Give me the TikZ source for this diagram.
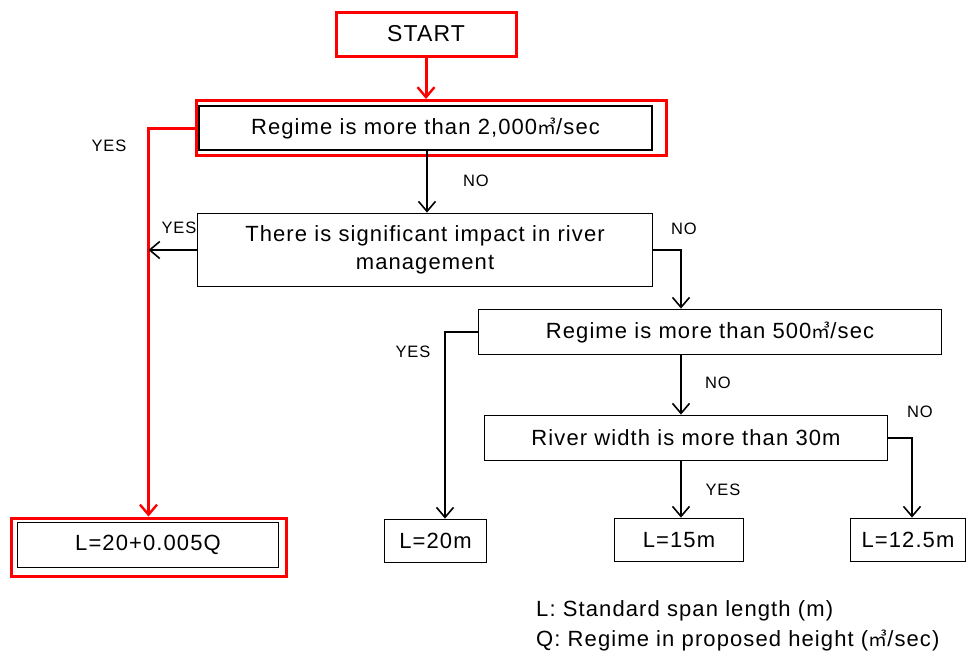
\documentclass[tikz,border=0pt]{standalone}
\usepackage{fontspec}
\setmainfont{Liberation Sans}[LetterSpace=5]
\newfontfamily\cjk{Noto Sans CJK JP}
\usetikzlibrary{arrows.meta}
% squared cubic-metre sign
\newcommand{\cbm}{{\cjk\fontsize{19}{19}\selectfont ㎥}}

\begin{document}
\begin{tikzpicture}[x=1pt,y=-1pt,
  txt/.style={font=\fontsize{22}{28}\selectfont},
  box/.style={draw=black, line width=1.8pt, rectangle, inner sep=0pt, align=center, txt},
  redframe/.style={draw=red, line width=3pt, rectangle, inner sep=0pt},
  flow/.style={draw=black, line width=1.6pt, -{Straight Barb[length=10pt,width=17pt,line width=1.6pt]}},
  redflow/.style={draw=red, line width=3pt, -{Straight Barb[length=10pt,width=17pt,line width=2.4pt]}},
  lbl/.style={font=\fontsize{16.5}{18}\selectfont, inner sep=0pt},
]
\useasboundingbox (0,0) rectangle (974,657);

% column coordinates for the vertical connectors
\coordinate (cmain) at (427,0);
\coordinate (cmid) at (681,0);
\coordinate (cyes) at (445,0);
\coordinate (cno) at (912,0);

% start
\node[redframe, minimum width=180pt, minimum height=44pt, font=\fontsize{23}{27}\selectfont] (start) at (426,34) {START};

% first decision, framed in red
\node[redframe, minimum width=470pt, minimum height=55pt] (q1out) at (431.5,128) {};
\node[box, minimum width=453pt, minimum height=44pt] (q1) at (425.5,128) {Regime is more than 2,000\cbm/sec};

% further decisions
\node[box, minimum width=455pt, minimum height=73pt] (q2) at (425,250) {There is significant impact in river\\management};
\node[box, minimum width=463pt, minimum height=45pt] (q3) at (710,332) {Regime is more than 500\cbm/sec};
\node[box, minimum width=403pt, minimum height=45pt] (q4) at (686,438) {River width is more than 30m};

% results
\node[redframe, minimum width=275pt, minimum height=58pt] (r1out) at (148.5,547) {};
\node[box, minimum width=261pt, minimum height=45pt] (r1) at (148,545) {L=20+0.005Q};
\node[box, minimum width=102pt, minimum height=43pt] (r2) at (435.5,541) {L=20m};
\node[box, minimum width=129pt, minimum height=43pt] (r3) at (679,540) {L=15m};
\node[box, minimum width=115pt, minimum height=43pt] (r4) at (908,540) {L=12.5m};

% connectors
\draw[redflow] (start.south) -- (start.south |- q1out.north);
\draw[redflow] (q1out.west) -| (r1out.north);
\draw[flow] (q1.south -| cmain) -- (q2.north -| cmain);
\draw[flow] (q2.west) -- (q2.west -| r1out.north);
\draw[flow] (q2.east) -| (cmid |- q3.north);
\draw[flow] (q3.south -| cmid) -- (q4.north -| cmid);
\draw[flow] (q3.west) -| (cyes |- r2.north);
\draw[flow] (q4.south -| cmid) -- (r3.north -| cmid);
\draw[flow] (q4.east) -| (cno |- r4.north);

% branch labels
\node[lbl] (l1) at (109,146) {YES};
\node[lbl] (l2) at (476,181) {NO};
\node[lbl] (l3) at (179,228) {YES};
\node[lbl] (l4) at (684,229) {NO};
\node[lbl] (l5) at (413,352) {YES};
\node[lbl] (l6) at (718,383) {NO};
\node[lbl] (l7) at (920,412) {NO};
\node[lbl] (l8) at (723,490) {YES};

% legend
\node[txt, anchor=west, inner sep=0pt] (k1) at (536,611) {L: Standard span length (m)};
\node[txt, anchor=west, inner sep=0pt] (k2) at (536,640) {Q: Regime in proposed height (\cbm/sec)};
\end{tikzpicture}
\end{document}
